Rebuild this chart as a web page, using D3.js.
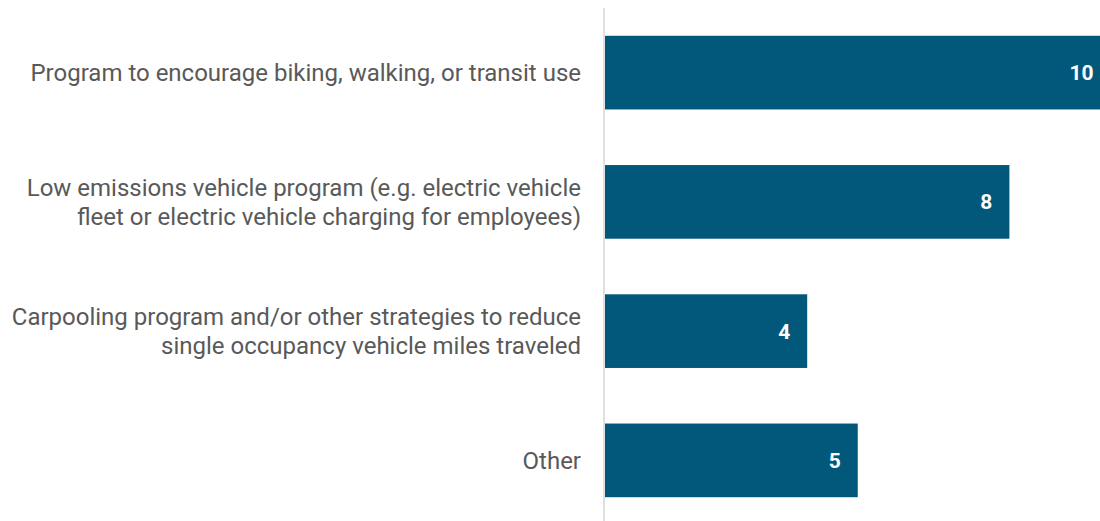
<!DOCTYPE html>
<html>
<head>
<meta charset="utf-8">
<script src="https://cdn.jsdelivr.net/npm/d3@7"></script>
<style>
    body { margin: 0; background: #fff; }
    svg { display: block; }
    .cat-label { font-family: Roboto, sans-serif; font-size: 24px; fill: #595959; }
    .val-label { font-family: Roboto, sans-serif; font-size: 21px; font-weight: bold; fill: #fff; }
</style>
</head>
<body>
<svg width="1100" height="521"></svg>
<script>
// chart data
var categories = [
    ["Program to encourage biking, walking, or transit use"],
    ["Low emissions vehicle program (e.g. electric vehicle", "fleet or electric vehicle charging for employees)"],
    ["Carpooling program and/or other strategies to reduce", "single occupancy vehicle miles traveled"],
    ["Other"]
];
var values = [10, 8, 4, 5];

var data = values.map(function (v, i) { return {id: i, lines: categories[i], value: v}; });

var svg = d3.select("svg");

var x = d3.scaleLinear().domain([0, 10]).range([605, 1110.5]);
var y = d3.scaleBand()
    .domain(data.map(function (d) { return d.id; }))
    .range([8, 525])
    .paddingInner(0.43)
    .paddingOuter(0.215);

// bars
svg.selectAll(".bar")
    .data(data)
    .enter()
    .append("rect")
        .attr("class", "bar")
        .attr("x", x(0))
        .attr("y", function (d) { return y(d.id); })
        .attr("width", function (d) { return x(d.value) - x(0); })
        .attr("height", y.bandwidth())
        .attr("fill", "#02587a");

// vertical axis line
svg.append("line")
    .attr("x1", x(0) - 1)
    .attr("x2", x(0) - 1)
    .attr("y1", 8)
    .attr("y2", 521)
    .attr("stroke", "#d6d6d6")
    .attr("stroke-width", 1.5);

// value labels
svg.selectAll(".val-label")
    .data(data)
    .enter()
    .append("text")
        .attr("class", "val-label")
        .attr("text-anchor", "end")
        .attr("x", function (d) { return x(d.value) - 17; })
        .attr("y", function (d) { return y(d.id) + y.bandwidth() / 2 + 7.5; })
        .text(function (d) { return d.value; });

// category labels
var lineH = 28.8;
var labels = svg.selectAll(".cat-label")
    .data(data)
    .enter()
    .append("text")
        .attr("class", "cat-label")
        .attr("text-anchor", "end")
        .attr("y", function (d) {
            var mid = y(d.id) + y.bandwidth() / 2;
            return mid + 8.5 - (d.lines.length - 1) * lineH / 2;
        });

labels.selectAll("tspan")
    .data(function (d) { return d.lines; })
    .enter()
    .append("tspan")
        .attr("x", 581)
        .attr("dy", function (d, i) { return i ? lineH : 0; })
        .text(function (d) { return d; });
</script>
</body>
</html>
